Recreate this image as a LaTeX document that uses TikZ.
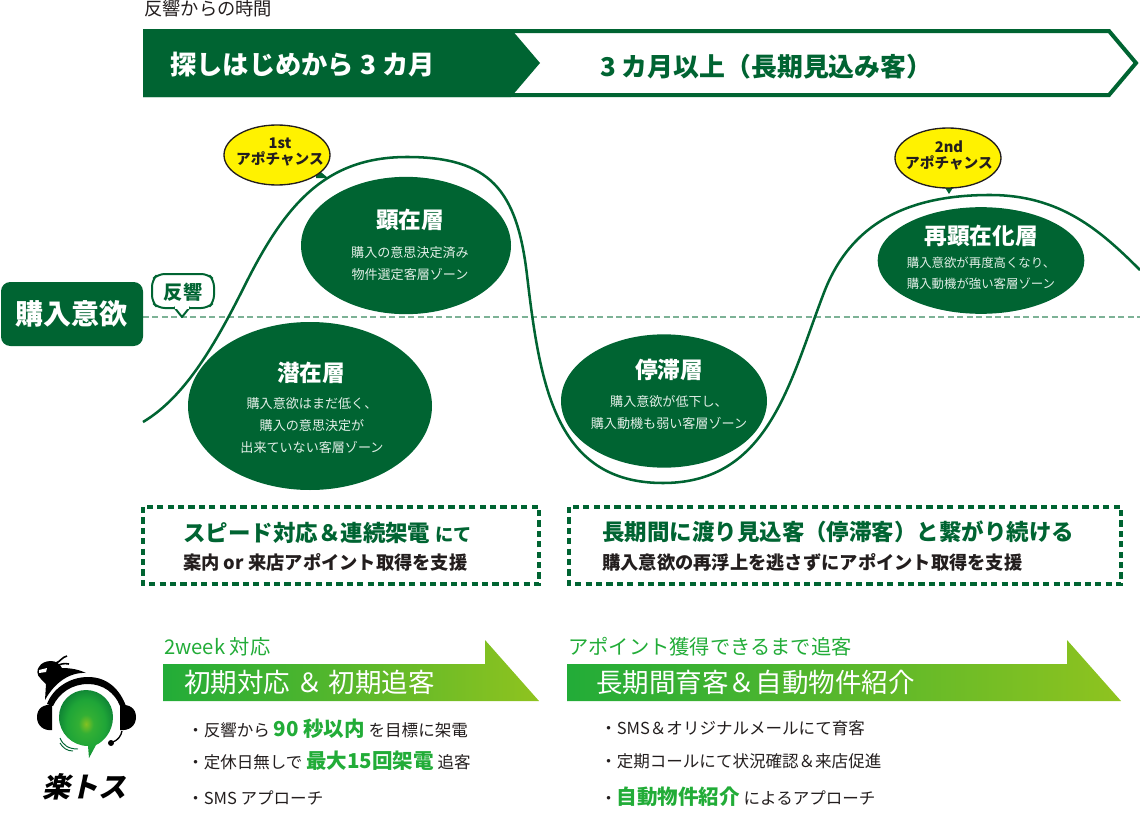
\documentclass[tikz,border=0pt]{standalone}
\usepackage{xcolor}
\usepackage{fontspec}
\setmainfont{Noto Sans CJK JP}
\newfontfamily\heavyjp{Noto Sans CJK JP Black}
\usetikzlibrary{shapes,positioning,calc}
\definecolor{deep}{RGB}{0,100,50}
\definecolor{fresh}{RGB}{34,172,56}
\definecolor{lime}{RGB}{143,195,31}
\definecolor{hazy}{RGB}{125,178,150}
\definecolor{ink}{RGB}{35,30,30}
\definecolor{pale}{RGB}{225,238,230}
\newcommand{\fsz}[1]{\fontsize{#1}{#1}\selectfont}
\pgfdeclareradialshading{ballglow}{\pgfpoint{0pt}{0pt}}{
    color(0pt)=(lime!90!fresh); color(7pt)=(fresh!85!lime); color(18pt)=(fresh!90!deep); color(30pt)=(deep!75!fresh); color(50pt)=(deep)}

\begin{document}
\begin{tikzpicture}[
    x=0.75pt, y=-0.75pt,
    zone/.style={ellipse, fill=deep, inner sep=0pt},
    zonehead/.style={text=white, font=\fsz{17}\bfseries, inner sep=0pt},
    zonetext/.style={text=pale, font=\fsz{9.8}, inner sep=0pt, align=center},
    chance/.style={ellipse, draw=ink, line width=1pt, fill=yellow, align=center, inner sep=0pt,
        minimum width=79.5pt, minimum height=45pt},
    chancetext/.style={text=ink, font=\fsz{11}\heavyjp, align=center, inner sep=0pt},
    framebox/.style={draw=deep, line width=2.8pt, dash pattern=on 4.6pt off 3.2pt},
    boxhead/.style={anchor=west, inner sep=0pt, text=deep, font=\fsz{16.85}\bfseries},
    boxtext/.style={anchor=west, inner sep=0pt, text=ink, font=\fsz{13.7}\bfseries},
    bannerlabel/.style={anchor=west, inner sep=0pt, text=fresh, font=\fsz{15.2}},
    bannerhead/.style={anchor=west, inner sep=0pt, text=white, font=\fsz{19.9}},
    item/.style={anchor=west, inner sep=0pt, text=ink, font=\fsz{12.4}}
]
    \useasboundingbox (0,0) rectangle (1140,828);

    \node[anchor=west, inner sep=0pt, text=ink, font=\fsz{13.7}] (timelabel) at (144,9) {反響からの時間};

    \draw[line width=3pt, draw=deep, fill=white] (145,31) -- (1109,31) -- (1136,63) -- (1109,95) -- (145,95) -- cycle;
    \fill[deep] (143,29) -- (511,29) -- (540,63) -- (511,97) -- (143,97) -- cycle;
    \node[anchor=west, inner sep=0pt, text=white, font=\fsz{19.7}\bfseries] (early) at (170,65) {探しはじめから 3 カ月};
    \node[anchor=west, inner sep=0pt, text=deep, font=\fsz{19.4}\bfseries] (late) at (600,67) {3 カ月以上（長期見込み客）};

    \draw[hazy, line width=1.2pt, dash pattern=on 4.5pt off 2.6pt] (143,317) -- (1140,317);
    \draw[deep, line width=1.9pt] (143,422) .. controls (185,397) and (215,345) .. (245,285)
        .. controls (285,205) and (325,157) .. (407,157)
        .. controls (490,157) and (517,190) .. (527,275)
        .. controls (540,385) and (555,483) .. (663,483)
        .. controls (770,483) and (790,380) .. (825,290)
        .. controls (855,215) and (920,195) .. (990,195)
        .. controls (1060,195) and (1100,230) .. (1140,270);

    \node[rectangle, rounded corners=7pt, fill=deep, minimum width=106.5pt, minimum height=48pt, inner sep=0pt,
        text=white, font=\fsz{21}\bfseries] (intent) at (72,314) {購入意欲};

    \draw[deep, line width=1.5pt, fill=white, rounded corners=5pt] (174,308) -- (158,308) -- (152,302) -- (152,280) -- (158,274) -- (208,274) -- (214,280) -- (214,302) -- (208,308) -- (190,308);
    \draw[deep, line width=1.5pt, fill=white, line join=round] (174,307) -- (182,317) -- (190,307);
    \fill[white] (175,304) rectangle (189,308.5);
    \node[text=deep, font=\fsz{14.4}\bfseries, inner sep=0pt] (response) at (183,292) {反響};

    \node[zone, minimum width=183pt, minimum height=126pt] (latent) at (310,406) {};
    \node[zonehead] (latenthead) at (311,373) {潜在層};
    \node[zonetext] (latenttext) at (312,426) {購入意欲はまだ低く、\\[6.7pt]購入の意思決定が\\[6.7pt]出来ていない客層ゾーン};

    \node[zone, minimum width=157.5pt, minimum height=103pt] (aware) at (406,245.5) {};
    \node[zonehead] (awarehead) at (410,220) {顕在層};
    \node[zonetext] (awaretext) at (410,264) {購入の意思決定済み\\[6.7pt]物件選定客層ゾーン};

    \node[zone, minimum width=154.5pt, minimum height=100pt] (stall) at (664,401) {};
    \node[zonehead] (stallhead) at (669,370) {停滞層};
    \node[zonetext] (stalltext) at (669,413) {購入意欲が低下し、\\[6.7pt]購入動機も弱い客層ゾーン};

    \node[zone, minimum width=155pt, minimum height=80pt] (reaware) at (981,260.5) {};
    \node[zonehead] (reawarehead) at (981,236) {再顕在化層};
    \node[zonetext, font=\fsz{9.3}] (reawaretext) at (981,273) {購入意欲が再度高くなり、\\[6.3pt]購入動機が強い客層ゾーン};

    \fill[deep] (316,168) -- (328,178) -- (316,178) -- cycle;
    \fill[deep] (944,186) -- (954,186) -- (949,194) -- cycle;
    \node[chance] (first) at (277,155) {};
    \node[chancetext] (firsttext) at (280,152) {1st\\[1pt]アポチャンス};
    \node[chance] (second) at (948,158) {};
    \node[chancetext] (secondtext) at (949,155) {2nd\\[1pt]アポチャンス};

    \draw[framebox] (143,507) rectangle (539,584);
    \node[boxhead] (speedhead) at (183,533) {スピード対応＆連続架電 {\fsz{13.7}にて}};
    \node[boxtext] (speedtext) at (183,562) {案内 or 来店アポイント取得を支援};
    \draw[framebox] (569,507) rectangle (1121,584);
    \node[boxhead] (longhead) at (602,532) {長期間に渡り見込客（停滞客）と繋がり続ける};
    \node[boxtext] (longtext) at (602,562) {購入意欲の再浮上を逃さずにアポイント取得を支援};

    \shade[left color=fresh, right color=lime] (163,664) -- (485,664) -- (485,640) -- (539,701) -- (163,701) -- cycle;
    \shade[left color=fresh, right color=lime] (567,664) -- (1067,664) -- (1067,640) -- (1121,701) -- (567,701) -- cycle;
    \node[bannerlabel] (weeklabel) at (164,647) {2week 対応};
    \node[bannerlabel] (chaselabel) at (568,647) {アポイント獲得できるまで追客};
    \node[bannerhead] (weekhead) at (184,682) {初期対応 ＆ 初期追客};
    \node[bannerhead] (chasehead) at (596,682) {長期間育客＆自動物件紹介};

    \node[item] (weekone) at (187,729) {・反響から {\fsz{15.4}\bfseries\color{fresh}90 秒以内} を目標に架電};
    \node[item] (weektwo) at (187,761) {・定休日無しで {\fsz{15.4}\bfseries\color{fresh}最大15回架電} 追客};
    \node[item] (weekthree) at (187,798) {・SMS アプローチ};
    \node[item] (chaseone) at (600,728) {・SMS＆オリジナルメールにて育客};
    \node[item] (chasetwo) at (600,761) {・定期コールにて状況確認＆来店促進};
    \node[item] (chasethree) at (600,797) {・{\fsz{15.4}\bfseries\color{fresh}自動物件紹介} によるアプローチ};

    % headset, ninja and speech ball
    \fill (37,717) .. controls (37,708) and (44,704) .. (52,705) -- (52,730) .. controls (44,731) and (37,726) .. (37,717) -- cycle;
    \fill (136,717) .. controls (136,708) and (129,704) .. (120,705) -- (120,730) .. controls (129,731) and (136,726) .. (136,717) -- cycle;
    \fill (47,704) .. controls (52,690) and (68,677) .. (88,677) .. controls (108,677) and (120,690) .. (126,706)
        -- (120,706) .. controls (115,693) and (103,684) .. (88,684) .. controls (72,684) and (59,693) .. (53,706) -- cycle;
    \fill (45,700) -- (46,684) -- (41,679) .. controls (36,675) and (37,669) .. (39,667)
        .. controls (41,663) and (46,661) .. (51,661) .. controls (56,661) and (60,664) .. (62,668)
        .. controls (72,668) and (80,670) .. (86,673) .. controls (70,672) and (55,682) .. (45,700) -- cycle;
    \draw[line width=1.2pt] (56,663) .. controls (60,662) and (62,657) .. (67,656);
    \draw[line width=1.2pt] (57,666) .. controls (60,664) and (64,663) .. (69,664);
    \fill[white] (39,670) -- (47,668) -- (46,672) -- (39,673) -- cycle;
    \shade[shading=ballglow] (113,717) .. controls (113,732) and (103,742) .. (96,745)
        -- (89,758) -- (88,746) .. controls (72,746) and (59,733) .. (59,717)
        .. controls (59,702) and (71,690) .. (86,690) .. controls (101,690) and (113,702) .. (113,717) -- cycle;
    \draw[line width=1pt] (122,731) .. controls (121,736) and (118,740) .. (113,742);
    \fill (111,743) circle (3);
    \draw[deep, line width=0.7pt] (60,738) .. controls (63,745) and (68,749) .. (78,749);
    \draw[deep, line width=0.7pt] (60,743) .. controls (63,748) and (67,751) .. (73,751);
    \node[inner sep=0pt, xslant=0.22, transform shape, text=black, font=\fsz{21}\bfseries] (brand) at (87,787) {楽トス};
\end{tikzpicture}
\end{document}
